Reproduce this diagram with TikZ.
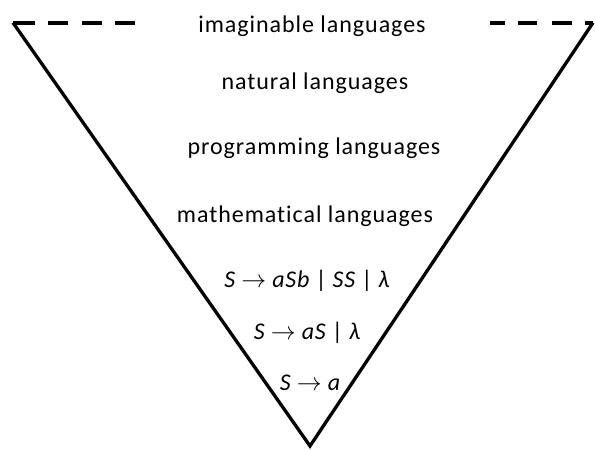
\documentclass[tikz,border=0pt]{standalone}
\usepackage{fontspec}
\setmainfont{Carlito}[Ligatures=NoCommon]
\begin{document}
\begin{tikzpicture}[x=1pt,y=-1pt,
  side/.style={line width=3.3pt,line join=miter},
  dashseg/.style={line width=3.8pt},
  lang/.style={inner sep=0pt,font=\fontsize{24}{28}\selectfont\addfontfeature{LetterSpace=4}},
  rule/.style={inner sep=0pt,font=\fontsize{24}{28}\selectfont\itshape\addfontfeature{LetterSpace=3}}]
\useasboundingbox (0,0) rectangle (595,450);
\coordinate (tl) at (13,22.7);
\coordinate (tr) at (593,22.7);
\coordinate (bot) at (310,446);
\draw[side] (tl) -- (bot) -- (tr);
% left dashes
\draw[dashseg] (tl) -- ++(22,0);
\draw[dashseg] (48,22.7) -- (68,22.7);
\draw[dashseg] (82,22.7) -- (102,22.7);
\draw[dashseg] (115,22.7) -- (135,22.7);
% right dashes
\draw[dashseg] (490,22.7) -- (505,22.7);
\draw[dashseg] (518,22.7) -- (537,22.7);
\draw[dashseg] (552,22.7) -- (572,22.7);
\draw[dashseg] (585,22.7) -- (tr);
\node[lang] (imag) at (312,26) {imaginable languages};
\node[lang] (nat) at (315,83) {natural languages};
\node[lang] (prog) at (314,148) {programming languages};
\node[lang] (math) at (305,216) {mathematical languages};
\node[rule] (r1) at (307,281) {S $\rightarrow$ aSb {\upshape|} SS {\upshape|} λ};
\node[rule] (r2) at (307,333) {S $\rightarrow$ aS {\upshape|} λ};
\node[rule] (r3) at (310,383) {S $\rightarrow$ a};
\end{tikzpicture}
\end{document}
